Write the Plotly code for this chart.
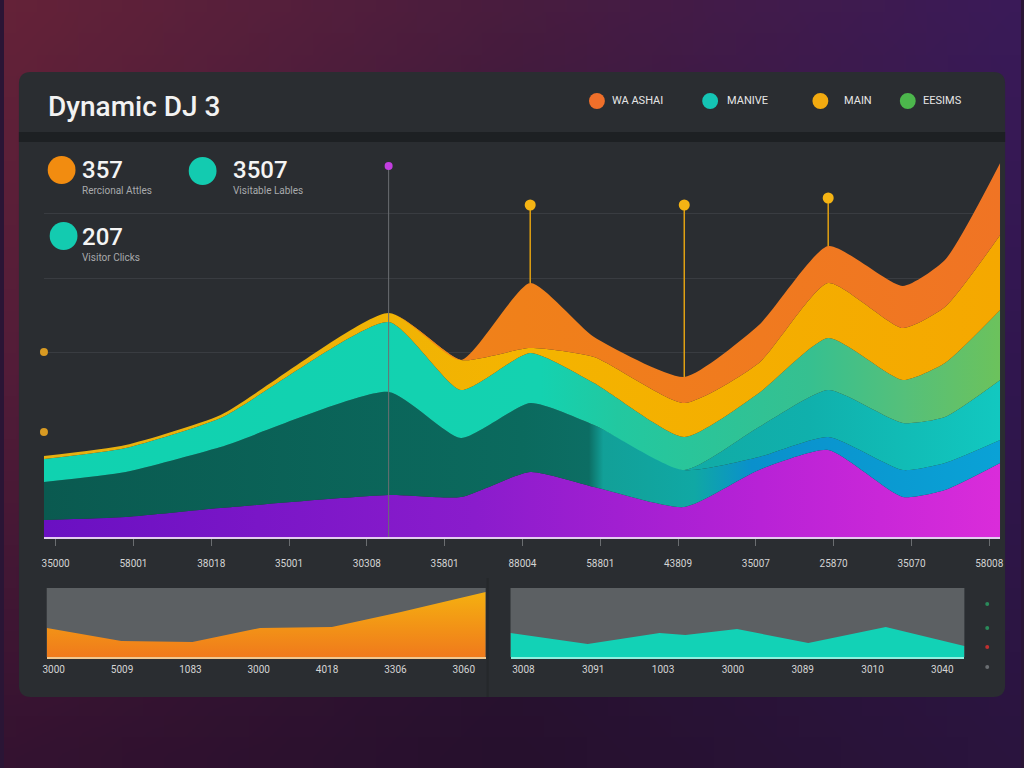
import base64, struct, zlib
import plotly.graph_objects as go

W, H = 1024, 768

# ---------------- data ----------------
x_main = [-0.15, 0.9, 2.12, 4.28, 5.21, 6.1, 6.92, 8.08, 9.04, 9.93, 10.89, 11.43, 12.14]
purple_vals = [17, 20, 29, 42, 40, 65, 50, 30, 67, 87, 40, 47, 74]
deep_vals = [38, 45, 61, 103, 59, 69, 62, 37, 13, 13, 27, 27, 23]
teal_vals = [0, 0, 0, 0, 0, 0, 0, 0, 30, 47, 47, 46, 60]
light_vals = [23, 24, 29, 70, 48, 50, 42, 33, 34, 52, 43, 54, 70]
yellow_vals = [3, 3, 3, 9, 30, 5, 26, 34, 30, 55, 52, 56, 75]
orange_vals = [0, 0, 0, 0, 0, 65, 20, 26, 38, 37, 42, 47, 72]

main_ticks = ["35000", "58001", "38018", "35001", "30308", "35801", "88004",
              "58801", "43809", "35007", "25870", "35070", "58008"]

event_x = [4.28, 6.1, 8.08, 9.93]
event_top = [371, 332, 332, 339]
event_base = [0, 254, 160, 291]
edge_dot_x = [-0.15, -0.15]
edge_dot_y = [185, 105]

mini_left_x = [-0.10, 0.99, 2.03, 3.02, 4.07, 5.08, 6.32]
mini_left_vals = [29, 16, 15, 29, 30, 45, 65]
mini_left_ticks = ["3000", "5009", "1083", "3000", "4018", "3306", "3060"]

mini_right_x = [-0.185, 0.92, 1.95, 2.32, 3.06, 4.08, 5.19, 6.316]
mini_right_vals = [24, 13, 24, 22, 28, 14, 30, 11]
mini_right_ticks = ["3008", "3091", "1003", "3000", "3089", "3010", "3040"]

kpi_values = ["357", "3507", "207"]
kpi_labels = ["Rercional Attles", "Visitable Lables", "Visitor Clicks"]
legend_names = ["WA ASHAI", "MANIVE", "MAIN", "EESIMS"]
title_text = "Dynamic DJ 3"


# ---------------- helpers ----------------
def px(x):
    return x / W


def py(y):
    return 1 - y / H


def png_uri(w, h, grid):
    def col(fx, fy):
        gx, gy = fx * 2, fy * 2
        i, j = min(int(gx), 1), min(int(gy), 1)
        tx, ty = gx - i, gy - j
        c = []
        for k in range(3):
            a = grid[j][i][k] * (1 - tx) + grid[j][i + 1][k] * tx
            b = grid[j + 1][i][k] * (1 - tx) + grid[j + 1][i + 1][k] * tx
            c.append(int(round(a * (1 - ty) + b * ty)))
        return bytes(c)

    raw = b"".join(b"\x00" + b"".join(col(xx / (w - 1), yy / (h - 1)) for xx in range(w)) for yy in range(h))

    def chunk(tag, data):
        return struct.pack(">I", len(data)) + tag + data + struct.pack(">I", zlib.crc32(tag + data) & 0xffffffff)

    png = (b"\x89PNG\r\n\x1a\n" + chunk(b"IHDR", struct.pack(">IIBBBBB", w, h, 8, 2, 0, 0, 0))
           + chunk(b"IDAT", zlib.compress(raw)) + chunk(b"IEND", b""))
    return "data:image/png;base64," + base64.b64encode(png).decode()


bg_grid = [
    [(100, 34, 56), (72, 28, 62), (58, 26, 88)],
    [(82, 28, 56), (46, 22, 56), (48, 22, 78)],
    [(52, 18, 48), (38, 16, 45), (42, 20, 62)],
]


def rrect(x0, y0, x1, y1, r):
    pts = [
        ("M", (x0 + r, y0)), ("L", (x1 - r, y0)), ("Q", (x1, y0), (x1, y0 + r)),
        ("L", (x1, y1 - r)), ("Q", (x1, y1), (x1 - r, y1)), ("L", (x0 + r, y1)),
        ("Q", (x0, y1), (x0, y1 - r)), ("L", (x0, y0 + r)), ("Q", (x0, y0), (x0 + r, y0)),
    ]
    s = ""
    for p in pts:
        s += p[0] + " " + " ".join(f"{px(a):.5f},{py(b):.5f}" for a, b in p[1:]) + " "
    return s + "Z"


def circle(cx, cy, r, color):
    return dict(type="circle", xref="paper", yref="paper", x0=px(cx - r), x1=px(cx + r),
                y0=py(cy + r), y1=py(cy - r), fillcolor=color, line=dict(width=0), layer="above")


# ---------------- figure ----------------
fig = go.Figure()

layers = [
    ("purple", purple_vals, [[0, "#6a10c2"], [0.45, "#8a1ccc"], [0.75, "#b822d6"], [1, "#da2cda"]]),
    ("deep", deep_vals, [[0, "#0a5a50"], [0.5, "#0b6a5e"], [0.57, "#0c6e64"], [0.585, "#12a098"],
                         [0.68, "#10a8a4"], [0.74, "#0a90cc"], [1, "#0aa2d6"]]),
    ("teal", teal_vals, [[0, "#10b0a5"], [0.6, "#12a8a2"], [0.8, "#10b0ac"], [1, "#12c8c0"]]),
    ("light", light_vals, [[0, "#10d2b0"], [0.52, "#14d2b0"], [0.6, "#22c8a0"], [0.8, "#36c090"],
                           [0.9, "#55c07a"], [1, "#6cc25c"]]),
    ("yellow", yellow_vals, [[0, "#e6b010"], [0.5, "#f4b400"], [1, "#f5a800"]]),
    ("orange", orange_vals, [[0, "#f08a1a"], [0.5, "#f0801a"], [1, "#f07424"]]),
]
for name, vals, cs in layers:
    fig.add_trace(go.Scatter(
        x=x_main, y=vals, name=name, stackgroup="main", mode="lines",
        line=dict(width=0, shape="spline", smoothing=0.55),
        fill="tonexty", fillgradient=dict(type="horizontal", colorscale=cs),
        showlegend=False, hoverinfo="skip", xaxis="x", yaxis="y"))

# event stems
for i, (ex, et, eb) in enumerate(zip(event_x, event_top, event_base)):
    fig.add_trace(go.Scatter(
        x=[ex, ex], y=[eb, et], mode="lines",
        line=dict(color="#6b6e72" if i == 0 else "#e0a012", width=1 if i == 0 else 1.5),
        showlegend=False, hoverinfo="skip"))
fig.add_trace(go.Scatter(
    x=event_x, y=event_top, mode="markers",
    marker=dict(size=[8, 11, 11, 11], color=["#c23ee0", "#f5b414", "#f5b414", "#f5b414"],
                opacity=1, line=dict(width=0)),
    showlegend=False, hoverinfo="skip", cliponaxis=False))
fig.add_trace(go.Scatter(
    x=edge_dot_x, y=edge_dot_y, mode="markers",
    marker=dict(size=8, color="#d89a22", opacity=1, line=dict(width=0)),
    showlegend=False, hoverinfo="skip", cliponaxis=False))

# mini charts
fig.add_trace(go.Scatter(
    x=mini_left_x, y=mini_left_vals, mode="lines", fill="tozeroy",
    line=dict(width=0), fillgradient=dict(type="vertical", colorscale=[[0, "#f07a1c"], [1, "#f5b010"]]),
    xaxis="x2", yaxis="y2", showlegend=False, hoverinfo="skip"))
fig.add_trace(go.Scatter(
    x=mini_right_x, y=mini_right_vals, mode="lines", fill="tozeroy",
    line=dict(width=0), fillcolor="#12d2b6",
    xaxis="x3", yaxis="y3", showlegend=False, hoverinfo="skip"))

# ---------------- shapes ----------------
shapes = [
    dict(type="path", path=rrect(15, 72, 1008, 697, 12), xref="paper", yref="paper",
         fillcolor="#2a2d31", line=dict(width=0), layer="below"),
    dict(type="rect", xref="paper", yref="paper", x0=px(15), x1=px(1008), y0=py(142), y1=py(132),
         fillcolor="#1d2023", line=dict(width=0), layer="below"),
    dict(type="rect", xref="paper", yref="paper", x0=px(486), x1=px(488), y0=py(697), y1=py(578),
         fillcolor="#25282b", line=dict(width=0), layer="below"),
    dict(type="rect", xref="x2 domain", yref="y2 domain", x0=0, x1=1, y0=0, y1=1,
         fillcolor="#5c6063", line=dict(width=0), layer="below"),
    dict(type="rect", xref="x3 domain", yref="y3 domain", x0=0, x1=1, y0=0, y1=1,
         fillcolor="#5c6063", line=dict(width=0), layer="below"),
]
# KPI circles
shapes += [circle(58, 170, 14, "#f28c10"), circle(200, 171, 14, "#13cbb0"), circle(60, 236, 14, "#13cbb0")]
# legend circles
leg_cx = [597, 711, 822, 910]
leg_col = ["#ef6f2a", "#14c4b4", "#f2aa10", "#4cb64c"]
shapes += [circle(cx, 101, 8, c) for cx, c in zip(leg_cx, leg_col)]
# right edge dots
for yy, c in zip([604, 628, 647, 667], ["#2a8a5a", "#2a8a5a", "#c03030", "#6a6e72"]):
    shapes.append(circle(990, yy, 2, c))

# ---------------- annotations ----------------
ann = []
ann.append(dict(text=title_text, x=px(42), y=py(107), xanchor="left", yanchor="middle",
                font=dict(family="Roboto", size=28, color="#f2f2f2", weight=500)))
for name, tx in zip(legend_names, [610, 726, 844, 923]):
    ann.append(dict(text=name, x=px(tx), y=py(101), xanchor="left", yanchor="middle",
                    font=dict(family="Liberation Sans Narrow, Roboto", size=11, color="#e6e6e6")))
for val, lab, (x0, y0) in zip(kpi_values, kpi_labels, [(77, 170), (229, 170), (77, 237)]):
    ann.append(dict(text=val, x=px(x0), y=py(y0), xanchor="left", yanchor="middle",
                    font=dict(family="Roboto", size=24, color="#f4f4f4", weight=500)))
    ann.append(dict(text=lab, x=px(x0), y=py(y0 + 20), xanchor="left", yanchor="middle",
                    font=dict(family="Liberation Sans Narrow, Roboto", size=10, color="#a8aaac")))
for a in ann:
    a.update(xref="paper", yref="paper", showarrow=False)

tickfont = dict(family="Liberation Sans Narrow, Roboto", size=10, color="#d4d4d4")

fig.update_layout(
    width=W, height=H, margin=dict(l=0, r=0, t=0, b=0),
    paper_bgcolor="#2a1535", plot_bgcolor="rgba(0,0,0,0)",
    images=[dict(source=png_uri(48, 36, bg_grid), xref="paper", yref="paper", x=0, y=1,
                 sizex=1, sizey=1, sizing="stretch", layer="below", xanchor="left", yanchor="top")],
    shapes=shapes, annotations=ann,
    xaxis=dict(domain=[px(40), px(1003)], range=[-0.153, 12.14], tickvals=list(range(13)),
               ticktext=main_ticks, tickfont=tickfont, ticks="outside", ticklen=7, tickcolor="#6a6d70",
               ticklabelstandoff=9, showgrid=False, zeroline=False, showline=True,
               linecolor="#e2cdef", linewidth=2, fixedrange=True),
    yaxis=dict(domain=[py(537), py(157)], range=[0, 380], tickvals=[185, 259, 324],
               showticklabels=False, showgrid=True, gridcolor="#393c41", gridwidth=1,
               zeroline=False, showline=False, fixedrange=True),
    xaxis2=dict(domain=[px(43), px(485)], range=[-0.1017, 6.32], tickvals=list(range(7)),
                ticktext=mini_left_ticks, tickfont=tickfont, ticks="", showgrid=False,
                zeroline=False, showline=True, linecolor="#f0c890", linewidth=1.5,
                ticklabelstandoff=2, anchor="y2"),
    yaxis2=dict(domain=[py(657), py(588)], range=[0, 69], visible=False, anchor="x2"),
    xaxis3=dict(domain=[px(510), px(967)], range=[-0.185, 6.316], tickvals=list(range(7)),
                ticktext=mini_right_ticks, tickfont=tickfont, ticks="", showgrid=False,
                zeroline=False, showline=True, linecolor="#8ff0e0", linewidth=1.5,
                ticklabelstandoff=2, anchor="y3"),
    yaxis3=dict(domain=[py(657), py(588)], range=[0, 69], visible=False, anchor="x3"),
)

fig.write_html("out.html", config={"displayModeBar": False},
               post_script="document.body.style.margin='0';document.body.style.overflow='hidden';")
